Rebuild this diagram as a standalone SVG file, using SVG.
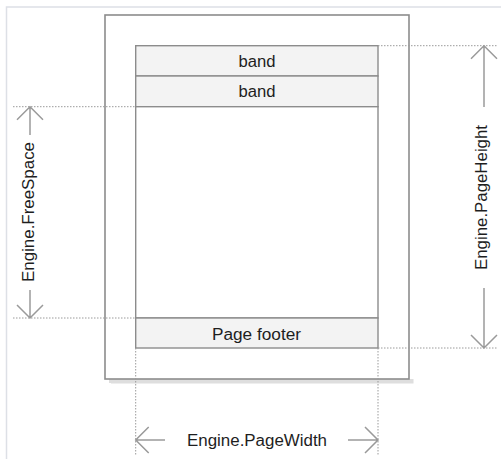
<svg xmlns="http://www.w3.org/2000/svg" width="501" height="459" viewBox="0 0 501 459">
<defs>
<style>
.frame{stroke:#dde0e6;stroke-width:1.5;fill:none}
.page{fill:#ffffff;stroke:#8c8c8c;stroke-width:1.6}
.shadow{fill:#dedede}
.band{fill:#f3f3f3;stroke:#8c8c8c;stroke-width:1.4}
.area{fill:#ffffff;stroke:#8c8c8c;stroke-width:1.4}
.dot{stroke:#9a9a9a;stroke-width:1;stroke-dasharray:1.5 1.5;fill:none}
.arr{stroke:#9a9a9a;stroke-width:1.5;fill:none}
.lbl{font-family:"Liberation Sans",Arial,sans-serif;font-size:16px;fill:#1e1e1e}
.mid{text-anchor:middle}
</style>
</defs>
<rect width="501" height="459" fill="#ffffff"/>
<path class="frame" d="M6.5,459 V7 H501"/>
<g id="page">
<rect class="shadow" x="109" y="21" width="4.5" height="362"/>
<rect class="shadow" x="111" y="379" width="302.5" height="4.5"/>
<rect class="page" x="105" y="15" width="304" height="364"/>
</g>
<g id="band1">
<rect class="band" x="135.7" y="45.7" width="242.3" height="30.3"/>
<text class="lbl mid" x="257" y="66.5" textLength="37" lengthAdjust="spacingAndGlyphs">band</text>
</g>
<g id="band2">
<rect class="band" x="135.7" y="76" width="242.3" height="30.7"/>
<text class="lbl mid" x="257" y="96.5" textLength="37" lengthAdjust="spacingAndGlyphs">band</text>
</g>
<g id="free-area">
<rect class="area" x="135.7" y="106.7" width="242.3" height="211.3"/>
</g>
<g id="page-footer">
<rect class="band" x="135.7" y="318" width="242.3" height="30"/>
<text class="lbl mid" x="256.5" y="340" textLength="89" lengthAdjust="spacingAndGlyphs">Page footer</text>
</g>
<g id="connectors">
<path class="dot" d="M378,45.7 H497 M13,106.7 H135.7 M13,318 H135.7 M378,348 H497 M135.7,348 V455 M378,348 V455"/>
<path class="arr" d="M30,106.7 V135 M30,290 V318 M17,119.7 L30,106.7 L43,119.7 M17,305 L30,318 L43,305"/>
<path class="arr" d="M484,45.7 V107 M484,288 V348 M471,58.7 L484,45.7 L497,58.7 M471,335 L484,348 L497,335"/>
<path class="arr" d="M135.7,440 H165 M348,440 H378 M148.7,427 L135.7,440 L148.7,453 M365,427 L378,440 L365,453"/>
</g>
<g id="label-freespace">
<text class="lbl mid" transform="translate(33.5,212) rotate(-90)" textLength="140" lengthAdjust="spacingAndGlyphs">Engine.FreeSpace</text>
</g>
<g id="label-pageheight">
<text class="lbl mid" transform="translate(487,197.5) rotate(-90)" textLength="145" lengthAdjust="spacingAndGlyphs">Engine.PageHeight</text>
</g>
<g id="label-pagewidth">
<text class="lbl mid" x="257" y="445.7" textLength="140" lengthAdjust="spacingAndGlyphs">Engine.PageWidth</text>
</g>
</svg>
